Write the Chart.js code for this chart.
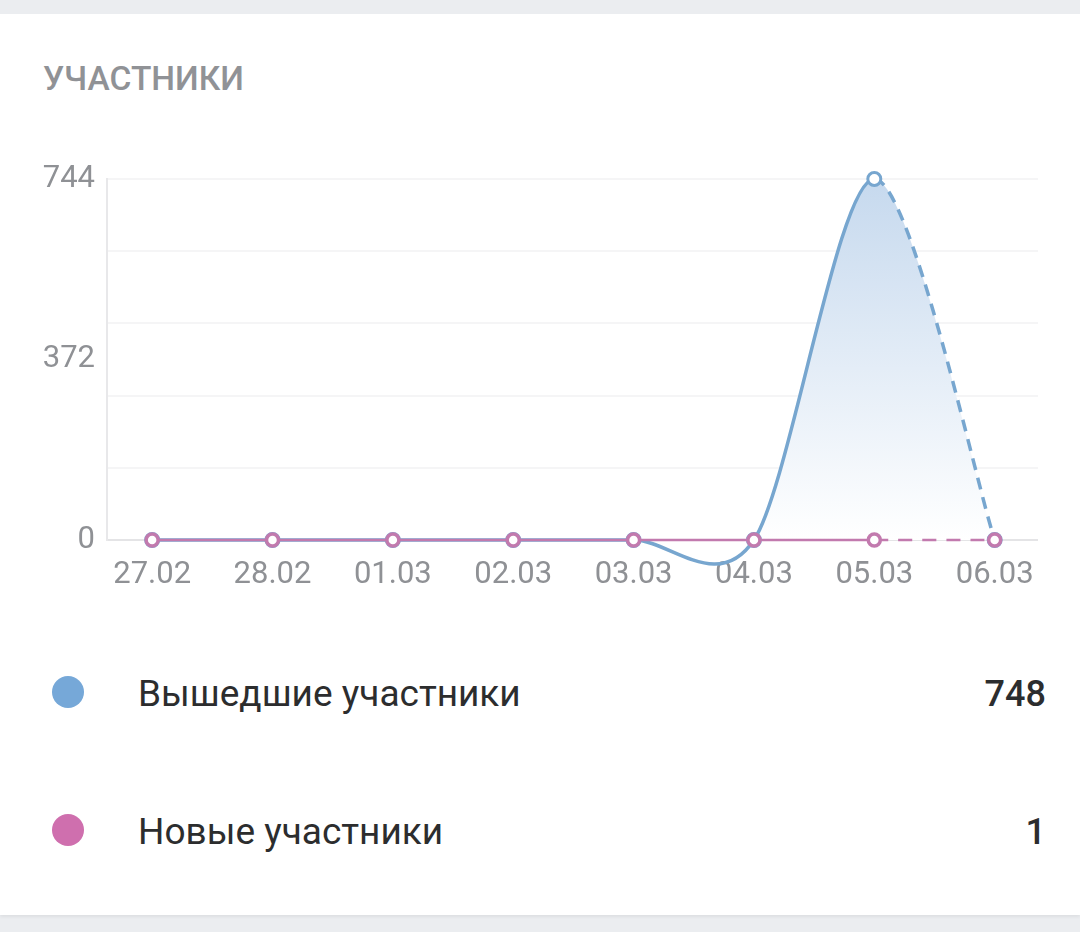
<!DOCTYPE html>
<html lang="ru">
<head>
<meta charset="utf-8">
<script src="https://cdn.jsdelivr.net/npm/chart.js@4"></script>
<style>
  html, body { margin: 0; padding: 0; }
  body { width: 1080px; height: 932px; background: #ebedf0; position: relative; overflow: hidden; font-family: Roboto, "Noto Sans", sans-serif; }
  .card { position: absolute; left: 0; top: 14px; width: 1080px; height: 901px; background: #fff; box-shadow: 0 2px 3px rgba(0,0,0,0.06); }
  .title { position: absolute; left: 43px; top: 59px; font-size: 33.5px; font-weight: 500; color: #909296; }
  #chartWrap { position: absolute; left: 0; top: 130px; width: 1080px; height: 490px; }
  .row { position: absolute; left: 0; width: 1080px; height: 50px; }
  .dot { position: absolute; left: 52px; top: 9px; width: 32px; height: 32px; border-radius: 50%; }
  .name { position: absolute; left: 138px; top: 2px; font-size: 37px; line-height: 50px; color: #2c2d2e; }
  .val { position: absolute; right: 34px; top: 2px; font-size: 36px; line-height: 50px; font-weight: 500; color: #2c2d2e; }
</style>
</head>
<body>
<div class="card"></div>
<div class="title">УЧАСТНИКИ</div>
<div id="chartWrap"><canvas id="chartCanvas"></canvas></div>
<div id="legend"></div>
<script>
  const dayLabels = ['27.02', '28.02', '01.03', '02.03', '03.03', '04.03', '05.03', '06.03'];
  const leftValues = [0, 0, 0, 0, 0, 0, 744, 0];
  const newValues = [0, 0, 0, 0, 0, 0, 0, 0];
  const seriesNames = ['Вышедшие участники', 'Новые участники'];
  const seriesTotals = [748, 1];
  const seriesColors = ['#76a8d8', '#cf6fae'];
  const yMax = 744;
  const yLabelValues = [0, 372, 744];

  // legend rows under the chart
  const legend = document.getElementById('legend');
  const rowTops = [667, 805];
  seriesNames.forEach((name, i) => {
    const row = document.createElement('div');
    row.className = 'row';
    row.style.top = rowTops[i] + 'px';
    row.innerHTML = '<div class="dot" style="background:' + seriesColors[i] + '"></div>' +
      '<div class="name">' + name + '</div><div class="val">' + seriesTotals[i] + '</div>';
    legend.appendChild(row);
  });

  const lastSeg = c => c.p1DataIndex === dayLabels.length - 1;
  const toPoints = arr => arr.map((v, i) => ({ x: i, y: v }));

  // uniform catmull-rom style handles instead of chart.js distance weighted ones
  const SMOOTH = 0.15;
  const uniformSpline = {
    id: 'uniformSpline',
    afterDatasetsUpdate(chart) {
      chart.getSortedVisibleDatasetMetas().forEach(meta => {
        const pts = meta.data;
        pts.forEach((p, i) => {
          const prev = pts[i - 1] || p;
          const next = pts[i + 1] || p;
          const dx = (next.x - prev.x) * SMOOTH;
          const dy = (next.y - prev.y) * SMOOTH;
          p.cp1x = p.x - dx; p.cp1y = p.y - dy;
          p.cp2x = p.x + dx; p.cp2y = p.y + dy;
        });
        if (meta.dataset) meta.dataset._pointsUpdated = true;
      });
    }
  };

  const ctx = document.getElementById('chartCanvas').getContext('2d');
  const chart = new Chart(ctx, {
    type: 'line',
    plugins: [uniformSpline],
    data: {
      datasets: [
        {
          label: seriesNames[1],
          data: toPoints(newValues),
          borderColor: '#c27aae',
          borderWidth: 2.5,
          tension: 0.4,
          pointRadius: 6,
          pointBorderWidth: 3.5,
          pointBackgroundColor: '#fff',
          pointBorderColor: '#c27aae',
          fill: false,
          clip: false,
          order: 0,
          segment: { borderDash: c => lastSeg(c) ? [14, 10] : undefined }
        },
        {
          label: seriesNames[0],
          data: toPoints(leftValues),
          borderColor: '#77a6cf',
          borderWidth: 3.5,
          tension: 0.4,
          capBezierPoints: false,
          pointRadius: 6.5,
          pointBorderWidth: 3,
          pointBackgroundColor: '#fff',
          pointBorderColor: '#77a6cf',
          clip: false,
          order: 1,
          fill: false,
          segment: { borderDash: c => lastSeg(c) ? [12, 8] : undefined }
        },
        {
          // area under the left-members line, drawn without a border so it has no seams
          label: '',
          data: toPoints(leftValues),
          borderWidth: 0,
          tension: 0.4,
          capBezierPoints: false,
          pointRadius: 0,
          clip: false,
          order: 2,
          fill: 'origin',
          backgroundColor: function (c) {
            const area = c.chart.chartArea;
            if (!area) return 'rgba(118,168,216,0.3)';
            const g = c.chart.ctx.createLinearGradient(0, area.top, 0, area.bottom);
            g.addColorStop(0, '#c6d9ee');
            g.addColorStop(1, '#ffffff');
            return g;
          }
        }
      ]
    },
    options: {
      responsive: true,
      maintainAspectRatio: false,
      animation: false,
      layout: { padding: { top: 49, left: 0, right: 42, bottom: 0 } },
      plugins: { legend: { display: false }, tooltip: { enabled: false } },
      scales: {
        x: {
          type: 'linear',
          min: -0.375,
          max: 7.36,
          grid: { display: false },
          border: { display: false },
          afterBuildTicks: s => { s.ticks = dayLabels.map((d, i) => ({ value: i })); },
          afterFit: s => { s.height = 80; },
          ticks: {
            autoSkip: false,
            maxRotation: 0,
            padding: 9,
            color: '#8f9195',
            font: { family: 'Roboto', size: 31 },
            callback: v => dayLabels[v]
          }
        },
        y: {
          min: 0,
          max: yMax,
          afterBuildTicks: s => {
            const t = [];
            for (let i = 0; i <= 10; i++) t.push({ value: yMax * i / 10 });
            s.ticks = t;
          },
          afterFit: s => { s.width = 107; },
          border: { display: true, color: '#e8e8ea', width: 2 },
          grid: {
            drawTicks: false,
            lineWidth: 2,
            color: c => {
              if (c.index === 0) return '#e4e4e6';
              return c.index % 2 === 0 ? '#f5f5f6' : 'rgba(0,0,0,0)';
            }
          },
          ticks: {
            autoSkip: false,
            padding: 12,
            color: '#8f9195',
            font: { family: 'Roboto', size: 31 },
            callback: (v, i) => (i % 5 === 0 ? yLabelValues[i / 5] : '')
          }
        }
      }
    }
  });
</script>
</body>
</html>
